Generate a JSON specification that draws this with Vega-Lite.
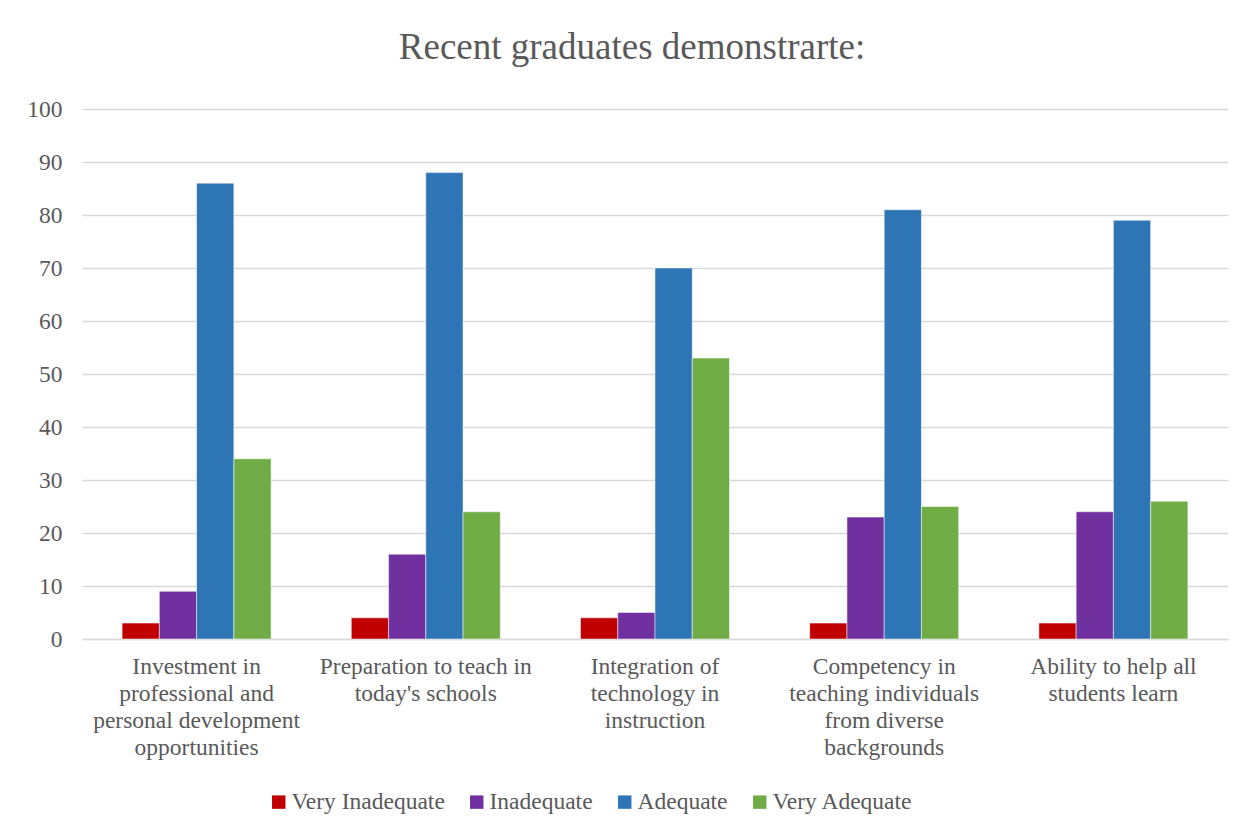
{
  "$schema": "https://vega.github.io/schema/vega-lite/v6.json",
  "autosize": {"type": "none"},
  "width": 1146,
  "height": 530,
  "padding": {"left": 82, "top": 109, "right": 23, "bottom": 190},
  "background": "white",
  "title": {
    "text": "Recent graduates demonstrarte:",
    "font": "Liberation Serif",
    "fontSize": 37,
    "fontWeight": "normal",
    "color": "#595959",
    "anchor": "middle",
    "dx": -23,
    "offset": 30
  },
  "data": {
    "values": [
      {"item": "Investment in|professional and|personal development|opportunities", "rating": "Very Inadequate", "value": 3},
      {"item": "Investment in|professional and|personal development|opportunities", "rating": "Inadequate", "value": 9},
      {"item": "Investment in|professional and|personal development|opportunities", "rating": "Adequate", "value": 86},
      {"item": "Investment in|professional and|personal development|opportunities", "rating": "Very Adequate", "value": 34},
      {"item": "Preparation to teach in|today's schools", "rating": "Very Inadequate", "value": 4},
      {"item": "Preparation to teach in|today's schools", "rating": "Inadequate", "value": 16},
      {"item": "Preparation to teach in|today's schools", "rating": "Adequate", "value": 88},
      {"item": "Preparation to teach in|today's schools", "rating": "Very Adequate", "value": 24},
      {"item": "Integration of|technology in|instruction", "rating": "Very Inadequate", "value": 4},
      {"item": "Integration of|technology in|instruction", "rating": "Inadequate", "value": 5},
      {"item": "Integration of|technology in|instruction", "rating": "Adequate", "value": 70},
      {"item": "Integration of|technology in|instruction", "rating": "Very Adequate", "value": 53},
      {"item": "Competency in|teaching individuals|from diverse|backgrounds", "rating": "Very Inadequate", "value": 3},
      {"item": "Competency in|teaching individuals|from diverse|backgrounds", "rating": "Inadequate", "value": 23},
      {"item": "Competency in|teaching individuals|from diverse|backgrounds", "rating": "Adequate", "value": 81},
      {"item": "Competency in|teaching individuals|from diverse|backgrounds", "rating": "Very Adequate", "value": 25},
      {"item": "Ability to help all|students learn", "rating": "Very Inadequate", "value": 3},
      {"item": "Ability to help all|students learn", "rating": "Inadequate", "value": 24},
      {"item": "Ability to help all|students learn", "rating": "Adequate", "value": 79},
      {"item": "Ability to help all|students learn", "rating": "Very Adequate", "value": 26}
    ]
  },
  "mark": {"type": "bar", "stroke": "white", "strokeWidth": 0.5},
  "encoding": {
    "x": {
      "field": "item",
      "type": "nominal",
      "sort": null,
      "title": null,
      "scale": {"paddingInner": 0.35, "paddingOuter": 0.175},
      "axis": {
        "labelExpr": "split(datum.label, '|')",
        "labelAngle": 0,
        "labelFont": "Liberation Serif",
        "labelFontSize": 23.5,
        "labelColor": "#595959",
        "labelLineHeight": 27,
        "labelPadding": 15,
        "labelBaseline": "top",
        "labelLimit": 300,
        "ticks": false,
        "domainColor": "#d9d9d9",
        "domainWidth": 1.5
      }
    },
    "xOffset": {
      "field": "rating",
      "type": "nominal",
      "sort": ["Very Inadequate", "Inadequate", "Adequate", "Very Adequate"],
      "scale": {"paddingInner": 0, "paddingOuter": 0}
    },
    "y": {
      "field": "value",
      "type": "quantitative",
      "title": null,
      "scale": {"domain": [0, 100], "nice": false},
      "axis": {
        "values": [0, 10, 20, 30, 40, 50, 60, 70, 80, 90, 100],
        "labelFont": "Liberation Serif",
        "labelFontSize": 23.5,
        "labelColor": "#595959",
        "labelPadding": 20,
        "ticks": false,
        "domain": false,
        "gridColor": "#d9d9d9",
        "gridWidth": 1.5
      }
    },
    "color": {
      "field": "rating",
      "type": "nominal",
      "sort": ["Very Inadequate", "Inadequate", "Adequate", "Very Adequate"],
      "scale": {
        "domain": ["Very Inadequate", "Inadequate", "Adequate", "Very Adequate"],
        "range": ["#C00000", "#7030A0", "#2E75B6", "#70AD47"]
      },
      "legend": {
        "title": null,
        "orient": "none",
        "direction": "horizontal",
        "legendX": 185,
        "legendY": 681,
        "symbolType": "square",
        "symbolSize": 180,
        "symbolStrokeWidth": 0,
        "labelFont": "Liberation Serif",
        "labelFontSize": 23.5,
        "labelColor": "#595959",
        "labelOffset": 1,
        "labelLimit": 300,
        "columnPadding": 20,
        "symbolOpacity": 1
      }
    }
  },
  "config": {
    "view": {"stroke": null}
  }
}
